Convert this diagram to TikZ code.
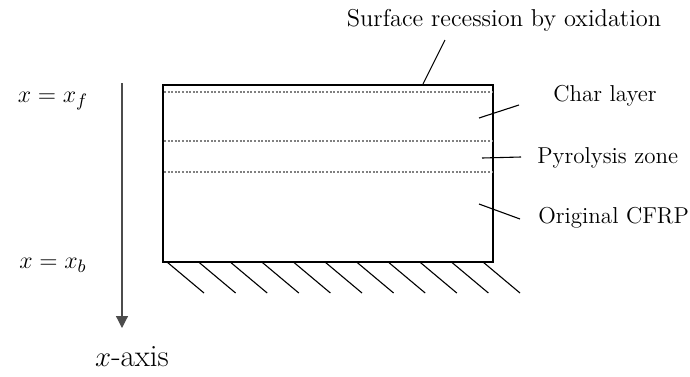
\documentclass[tikz,border=0pt]{standalone}
\usetikzlibrary{arrows.meta}
\tikzset{
  lbl/.style={font=\fontsize{11.5}{14}\selectfont, inner sep=0pt},
  axlbl/.style={font=\fontsize{13}{16}\selectfont, inner sep=0pt},
  layerline/.style={gray, line width=0.6pt, dash pattern=on 1pt off 0.8pt},
  leader/.style={line width=0.55pt},
}
\begin{document}
\begin{tikzpicture}[x=0.5pt, y=-0.5pt, >={Triangle[width=6pt,length=6pt]}]
    \useasboundingbox (0,0) rectangle (690,376);
    % 坐标轴
    \node[axlbl] (xf) at (53,101) {$x = x_f$};
    \node[axlbl] (xb) at (53,265) {$x = x_b$};
    \coordinate (axtop) at (122,83);
    \node[axlbl, font=\fontsize{15.5}{18}\selectfont, anchor=north] (axis) at (132,346) {$x$-axis};
    \coordinate (axend) at (122,328);
    \draw[->, line width=0.6pt, black!70] (axtop) -- (axend);
    % 试样
    \draw[line width=1.1pt] (163,85) rectangle (493,262);
    \draw[layerline] (164,92) -- (492,92);
    \draw[layerline] (164,141) -- (492,141);
    \draw[layerline] (164,172) -- (492,172);
    % 固定端
    \foreach \i in {0,...,10}
        \draw[line width=0.55pt] (167+31.6*\i,262) -- ++(37,31);
    % 标注
    \node[lbl, font=\fontsize{12.2}{14}\selectfont] (surf) at (504,20) {Surface recession by oxidation};
    \coordinate (s1) at (423,84);
    \coordinate (s2) at (445,40);
    \draw[leader] (s1) -- (s2);
    \node[lbl, anchor=west] (char) at (553,96) {Char layer};
    \coordinate (c1) at (479,118);
    \coordinate (c2) at (519,105);
    \draw[leader] (c1) -- (c2);
    \node[lbl, anchor=west] (pyro) at (537,158) {Pyrolysis zone};
    \coordinate (p1) at (482,158);
    \coordinate (p2) at (521,157);
    \draw[leader] (p1) -- (p2);
    \node[lbl, anchor=west] (orig) at (538,218) {Original CFRP};
    \coordinate (o1) at (479,204);
    \coordinate (o2) at (520,219);
    \draw[leader] (o1) -- (o2);
\end{tikzpicture}
\end{document}
